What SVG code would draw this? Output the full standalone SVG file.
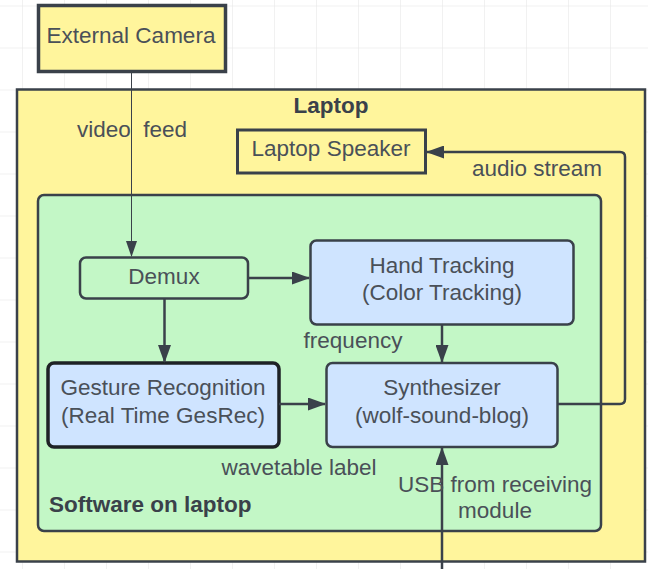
<svg xmlns="http://www.w3.org/2000/svg" width="648" height="569" viewBox="0 0 648 569">
<defs>
<pattern id="grid" x="22" y="5.5" width="42" height="42" patternUnits="userSpaceOnUse">
<path d="M0 0 H42 M0 0 V42" fill="none" stroke="#e3e3e3" stroke-width="1"/>
</pattern>
<marker id="arrB" viewBox="0 0 18 13" refX="17" refY="6.5" markerWidth="18" markerHeight="13" markerUnits="userSpaceOnUse" orient="auto">
<path d="M0 0 L18 6.5 L0 13 Z" fill="#3a414a"/>
</marker>
<marker id="arrS" viewBox="0 0 16 11" refX="15" refY="5.5" markerWidth="16" markerHeight="11" markerUnits="userSpaceOnUse" orient="auto">
<path d="M0 0 L16 5.5 L0 11 Z" fill="#3a414a"/>
</marker>
</defs>
<style>
text{font-family:"Liberation Sans",Arial,sans-serif;font-size:22.5px;fill:#4a5058}
.c{text-anchor:middle}
.b{font-weight:bold;fill:#3a414a}
.line{fill:none;stroke:#3a414a;stroke-width:2.5}
.thin{fill:none;stroke:#3a414a;stroke-width:1}
.yel{fill:#fff59c;stroke:#3a414a}
</style>
<rect width="648" height="569" fill="#ffffff"/>
<rect width="648" height="569" fill="url(#grid)"/>

<g id="laptop">
<rect class="yel" x="17" y="89.5" width="628" height="472" stroke-width="2.5"/>
<text class="c b" x="331" y="113">Laptop</text>
</g>
<g id="external-camera">
<rect class="yel" x="38.5" y="5.5" width="187" height="66" stroke-width="3.5"/>
<text class="c" x="131" y="43">External Camera</text>
</g>
<g id="laptop-speaker">
<rect class="yel" x="237.5" y="130" width="188" height="43" stroke-width="3"/>
<text class="c" x="331" y="156">Laptop Speaker</text>
</g>
<g id="software">
<rect x="38" y="195" width="563" height="336" rx="6" fill="#c3f7c6" stroke="#3a414a" stroke-width="2.5"/>
<text class="b" x="49" y="512">Software on laptop</text>
</g>
<g id="demux">
<rect x="80" y="257.5" width="168" height="41" rx="6" fill="#c3f7c6" stroke="#3a414a" stroke-width="2.5"/>
<text class="c" x="164" y="284">Demux</text>
</g>
<g id="hand-tracking">
<rect x="310.5" y="240.5" width="263" height="84" rx="6" fill="#cfe4ff" stroke="#3a414a" stroke-width="2.5"/>
<text class="c" x="442" y="273">Hand Tracking</text>
<text class="c" x="442" y="300">(Color Tracking)</text>
</g>
<g id="gesture-recognition">
<rect x="48" y="363" width="231" height="84" rx="6" fill="#cfe4ff" stroke="#1e2226" stroke-width="3.5"/>
<text class="c" x="163" y="395">Gesture Recognition</text>
<text class="c" x="163" y="423">(Real Time GesRec)</text>
</g>
<g id="synthesizer">
<rect x="326.5" y="363" width="231" height="84" rx="6" fill="#cfe4ff" stroke="#3a414a" stroke-width="2.5"/>
<text class="c" x="442" y="395">Synthesizer</text>
<text class="c" x="442" y="423">(wolf-sound-blog)</text>
</g>

<g id="connectors">
<path class="thin" d="M131.5 72 V256" marker-end="url(#arrS)"/>
<text class="c" x="132" y="137" xml:space="preserve">video  feed</text>
<path class="line" d="M248 278 H309" marker-end="url(#arrB)"/>
<path class="line" d="M164.5 299 V362" marker-end="url(#arrB)"/>
<path class="line" d="M442 325 V362" marker-end="url(#arrB)"/>
<text class="c" x="353" y="348">frequency</text>
<path class="line" d="M279 404 H325" marker-end="url(#arrB)"/>
<text class="c" x="299" y="475">wavetable label</text>
<path class="line" d="M442 569 V448" marker-end="url(#arrB)"/>
<text class="c" x="495" y="492">USB from receiving</text>
<text class="c" x="495" y="518">module</text>
<path class="line" d="M558 404 H620 Q625 404 625 399 V157 Q625 152 620 152 H427" marker-end="url(#arrB)"/>
<text class="c" x="537" y="176">audio stream</text>
</g>
</svg>
